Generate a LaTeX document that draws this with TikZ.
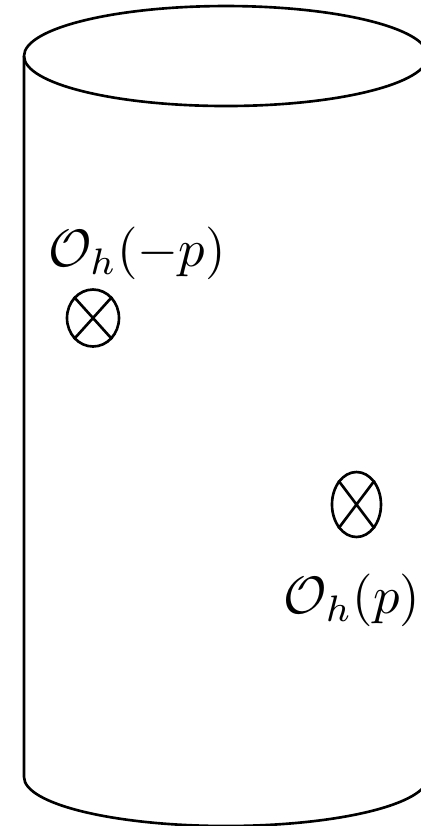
\documentclass[tikz,border=0pt]{standalone}
\usetikzlibrary{shapes.geometric}
\begin{document}
\begin{tikzpicture}[x=0.19pt,y=-0.19pt,line width=0.5pt,
  opmark/.style={draw,ellipse,inner sep=0pt,line width=0.5pt},
  lbl/.style={inner sep=0pt}]
\useasboundingbox (0,0) rectangle (421,826);
\clip (0,0) rectangle (421,826);
% cylinder
\draw (226,56) ellipse [x radius=202, y radius=50];
\draw (24,56) -- (24,777) arc[start angle=180, end angle=0, x radius=202, y radius=49] -- (428,56);
% operator insertions
\node[opmark,minimum width=52*0.19pt,minimum height=57*0.19pt] (L) at (93,318) {};
\draw (L.132) -- (L.312) (L.48) -- (L.228);
\node[opmark,minimum width=49*0.19pt,minimum height=65*0.19pt] (R) at (356.5,504.5) {};
\draw (R.127) -- (R.307) (R.53) -- (R.233);
% labels
\node[lbl] (tL) at (137,253) {$\mathcal{O}_h(-p)$};
\node[lbl] (tR) at (352,600) {$\mathcal{O}_h(p)$};
\end{tikzpicture}
\end{document}
